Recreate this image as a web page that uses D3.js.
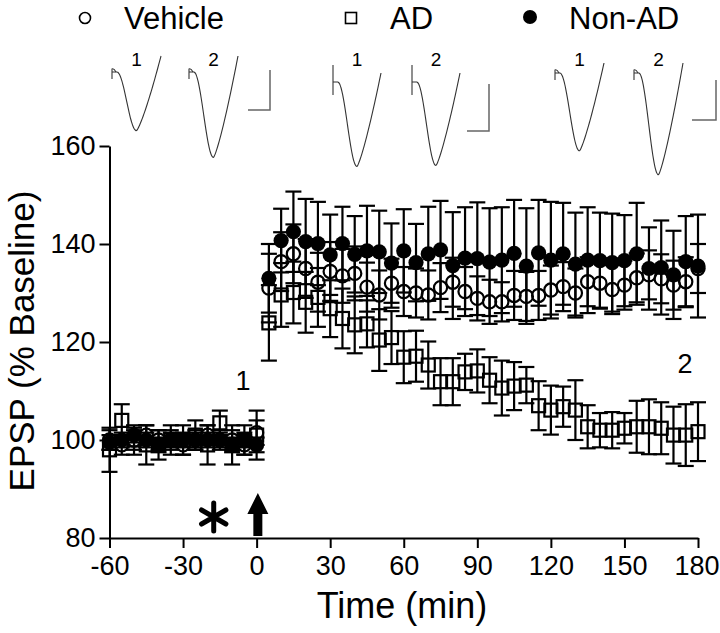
<!DOCTYPE html>
<html><head><meta charset="utf-8">
<script src="https://cdn.jsdelivr.net/npm/d3@7"></script>
<style>
body{margin:0;background:#fff}
svg{display:block}
text{font-family:"Liberation Sans",Arial,Helvetica,sans-serif;fill:#000}
</style>
</head><body>
<svg id="chart" width="720" height="633"></svg>
<script>
// ---------------- DATA ----------------
const baselineTimes = [-60,-55,-50,-45,-40,-35,-30,-25,-20,-15,-10,-5,0];
const postTimes = [5,10,15,20,25,30,35,40,45,50,55,60,65,70,75,80,85,90,95,100,105,110,115,120,125,130,135,140,145,150,155,160,165,170,175,180];

const vehicleBase    = [100,99,100,101,100,100,99,100,101,100,100,99,101.5];
const vehicleBaseErr = [2,2,2,2,2,2,2,2,2,2,2,2,2.5];
const adBase         = [98,104,100,99,99,100,100,101,99,103.5,99,100,101];
const adBaseErr      = [4.5,3.3,3,4,3,3,3,3,4,2.5,4,3,5];
const nonAdBase      = [99.5,100,101,100,99,100,100,100,100,100,99,100,99];
const nonAdBaseErr   = [1.5,1.5,1.5,1.5,1.5,1.5,1.5,1.5,1.5,1.5,1.5,1.5,1.5];

const vehiclePost    = [131,136.4,138,135,132.2,134.4,133.5,134,131.2,129.6,132,130.3,130,129.6,131.1,132.2,130.3,128.9,128.2,128.2,129.5,129.3,129.5,130.6,131.3,130,132.3,132,130.7,131.6,133.1,133.7,132.9,131.6,132.3,135];
const vehiclePostErr = [7,6,6,6,6,6,5.5,5.5,5,5,5,5,5,5,5,5,5,4.5,4.5,4,5,5,5,5,5,5,5,5,5,5,5,5,5,5,5,5];
const adPost         = [123.9,129.6,130.1,128.1,129.1,126.8,124.8,123.5,123.7,120.4,120.9,116.9,117.1,115.3,111.9,111.9,113.9,114.1,112.2,110.6,111,111.2,107,106.1,106.8,106.1,102.7,102,102,102.4,102.7,102.7,102.4,101,101,101.7];
const adPostErr      = [7.7,6.5,6.3,6.2,6,5.8,6.1,5.8,4.8,6.3,5.4,5.3,5.2,4.8,4.8,4.8,3.7,4.4,4.7,5.6,4.9,3.7,5,5,4.1,6.1,4.4,3.5,3.7,3.1,5.3,5.6,5.3,5.8,6.3,6];
const nonAdPost      = [133,140.7,142.5,140.5,140.1,137.8,140.1,137.9,138.6,138.4,136.1,138.6,136.2,138,138.8,135.6,137.1,137,136.3,136.7,138.1,135.5,138.2,136.7,138,135.9,136.7,136.6,136.2,136.6,138,135,135.2,133.7,136.4,135.5];
const nonAdPostErr   = [7,6.5,8.2,8.7,8.5,8.2,7.5,7.8,9.2,8.4,8.1,8.5,7.9,9.6,10,10.9,10.4,11.5,11,10.8,10.9,11.8,10.8,11.9,10.4,10.5,10.8,9.8,10,9.3,10.4,8.4,9.6,9,9.3,10.5];

const xTicks = [-60,-30,0,30,60,90,120,150,180];
const yTicks = [80,100,120,140,160];
const seriesNames = ["Vehicle","AD","Non-AD"];
// inset EPSP trace amplitudes (in scale-bar units), traces 1 and 2 per group
const traceAmp = {"Vehicle":[1.47,2.14], "AD":[1.80,1.78], "Non-AD":[1.95,2.55]};

// ---------------- CHART ----------------
const svg = d3.select("#chart");
const x = d3.scaleLinear().domain([-60,180]).range([109.5,698]);
const y = d3.scaleLinear().domain([80,160]).range([538,146]);

const FONT = '"Liberation Sans",Arial,Helvetica,sans-serif';

// axes
const gx = svg.append("g").attr("transform","translate(0,538)")
  .call(d3.axisBottom(x).tickValues(xTicks).tickSize(10).tickSizeOuter(0).tickPadding(8).tickFormat(d3.format("d")));
const gy = svg.append("g").attr("transform","translate(109.5,0)")
  .call(d3.axisLeft(y).tickValues(yTicks).tickSize(10).tickSizeOuter(0).tickPadding(4).tickFormat(d3.format("d")));
[gx,gy].forEach(g=>{
  g.select(".domain").attr("stroke","#000").attr("stroke-width",2);
  g.selectAll(".tick line").attr("stroke","#000").attr("stroke-width",2);
  g.selectAll(".tick text").attr("font-family",FONT).attr("font-size",27).attr("fill","#000");
});
gx.selectAll(".tick text").text(d=>d<0?"-"+Math.abs(d):d);
// keep the last x label inside the picture
gx.selectAll(".tick text").filter(d=>d===180).attr("text-anchor","end").attr("x",21);

// axis titles
svg.append("text").attr("x",402).attr("y",618).attr("text-anchor","middle")
  .attr("font-size",36).text("Time (min)");
svg.append("text").attr("transform","translate(34,341) rotate(-90)").attr("text-anchor","middle")
  .attr("font-size",35).text("EPSP (% Baseline)");

// build series
function mk(times, vals, errs){ return times.map((t,i)=>({t, v:vals[i], e:errs[i]})); }
const series = {
  "AD":      mk(baselineTimes, adBase, adBaseErr).concat(mk(postTimes, adPost, adPostErr)),
  "Vehicle": mk(baselineTimes, vehicleBase, vehicleBaseErr).concat(mk(postTimes, vehiclePost, vehiclePostErr)),
  "Non-AD":  mk(baselineTimes, nonAdBase, nonAdBaseErr).concat(mk(postTimes, nonAdPost, nonAdPostErr))
};
const CAP = 8;
function drawErr(g, data){
  const eb = g.append("g").attr("stroke","#000").attr("stroke-width",2.2).attr("fill","none");
  data.forEach(d=>{
    const cx = x(d.t), yt = y(d.v+d.e), yb = y(d.v-d.e);
    eb.append("line").attr("x1",cx).attr("x2",cx).attr("y1",yt).attr("y2",yb);
    eb.append("line").attr("x1",cx-CAP).attr("x2",cx+CAP).attr("y1",yt).attr("y2",yt);
    eb.append("line").attr("x1",cx-CAP).attr("x2",cx+CAP).attr("y1",yb).attr("y2",yb);
  });
}
const plot = svg.append("g");
// AD: open squares
const gAD = plot.append("g");
drawErr(gAD, series["AD"]);
gAD.selectAll("rect").data(series["AD"]).join("rect")
  .attr("x",d=>x(d.t)-6.5).attr("y",d=>y(d.v)-6.5).attr("width",13).attr("height",13)
  .attr("fill","none").attr("stroke","#000").attr("stroke-width",2.2);
// Vehicle: open circles
const gV = plot.append("g");
drawErr(gV, series["Vehicle"]);
gV.selectAll("circle").data(series["Vehicle"]).join("circle")
  .attr("cx",d=>x(d.t)).attr("cy",d=>y(d.v)).attr("r",6.6)
  .attr("fill","none").attr("stroke","#000").attr("stroke-width",2.2);
// Non-AD: filled circles
const gN = plot.append("g");
drawErr(gN, series["Non-AD"]);
gN.selectAll("circle").data(series["Non-AD"]).join("circle")
  .attr("cx",d=>x(d.t)).attr("cy",d=>y(d.v)).attr("r",7.6)
  .attr("fill","#000").attr("stroke","none");

// annotations "1", "2"
svg.append("text").attr("x",243).attr("y",390).attr("text-anchor","middle").attr("font-size",27).text("1");
svg.append("text").attr("x",685).attr("y",373).attr("text-anchor","middle").attr("font-size",27).text("2");

// asterisk (drug) and arrow (stimulation) markers
svg.append("path").attr("d", d3.symbol(d3.symbolAsterisk, 560)())
  .attr("transform",`translate(${x(-17.5)},517)`).attr("stroke","#000").attr("stroke-width",5)
  .attr("stroke-linecap","round").attr("fill","none");
const ax0 = x(0.5);
svg.append("path").attr("d",
  `M${ax0},493 L${ax0+10.5},514 L${ax0+4.5},514 L${ax0+4.5},536 L${ax0-4.5},536 L${ax0-4.5},514 L${ax0-10.5},514 Z`)
  .attr("fill","#000");

// legend
const legend = [
  {name:"Vehicle", sx:85, tx:124},
  {name:"AD", sx:351, tx:390},
  {name:"Non-AD", sx:530, tx:569}
];
legend.forEach(l=>{
  if(l.name==="Vehicle") svg.append("circle").attr("cx",l.sx).attr("cy",18).attr("r",5.5).attr("fill","none").attr("stroke","#000").attr("stroke-width",1.6);
  if(l.name==="AD") svg.append("rect").attr("x",l.sx-5.5).attr("y",12.5).attr("width",11).attr("height",11).attr("fill","none").attr("stroke","#000").attr("stroke-width",1.6);
  if(l.name==="Non-AD") svg.append("circle").attr("cx",l.sx).attr("cy",17).attr("r",7).attr("fill","#000");
  svg.append("text").attr("x",l.tx).attr("y",29).attr("font-size",31).text(l.name);
});

// inset traces
const insets = [
  {name:"Vehicle", x0:[112,189], w:49, y0:72, bar:{x:270, top:70, h:40, w:22}, art:"hook", over:16},
  {name:"AD",      x0:[333,412], w:48, y0:82, bar:{x:489, top:84, h:47, w:22}, art:"line", over:9},
  {name:"Non-AD",  x0:[555,634], w:49, y0:73, bar:{x:716, top:80, h:40, w:24}, art:"hook", over:10}
];
function traceShape(amp, over){
  const pts=[];
  for(let i=0;i<=60;i++){
    const u=i/60; let v;
    if(u<0.5){ const s=Math.max(0,(u-0.1)/0.4); v = -amp*(1-Math.cos(Math.PI*s))/2; }
    else { const s=(u-0.5)/0.5; v = -amp + (amp+over)*Math.pow(s,1.25); }
    pts.push([u,v]);
  }
  return pts;
}
insets.forEach(ins=>{
  const g = svg.append("g");
  const ys = d3.scaleLinear().domain([0,1]).range([0, ins.bar.h]);
  traceAmp[ins.name].forEach((a,k)=>{
    const xs = d3.scaleLinear().domain([0,1]).range([ins.x0[k], ins.x0[k]+ins.w]);
    const pts = traceShape(a, ins.over/ins.bar.h);
    g.append("path").attr("d", d3.line().x(p=>xs(p[0])).y(p=>ins.y0 - ys(p[1])).curve(d3.curveBasis)(pts))
      .attr("fill","none").attr("stroke","#333").attr("stroke-width",1.1);
    const sx = ins.x0[k];
    if(ins.art==="hook"){
      g.append("path").attr("d",`M${sx},${ins.y0+7} L${sx},${ins.y0-3} Q${sx+2},${ins.y0-4} ${sx+4},${ins.y0}`)
        .attr("fill","none").attr("stroke","#333").attr("stroke-width",1.1);
    } else {
      g.append("line").attr("x1",sx).attr("x2",sx).attr("y1",ins.y0-17).attr("y2",ins.y0+13)
        .attr("stroke","#333").attr("stroke-width",1.1);
    }
    g.append("text").attr("x", xs(0.5)).attr("y",66).attr("text-anchor","middle").attr("font-size",19).text(String(k+1));
  });
  const b = ins.bar;
  g.append("path").attr("d",`M${b.x},${b.top} L${b.x},${b.top+b.h} L${b.x-b.w},${b.top+b.h}`)
    .attr("fill","none").attr("stroke","#666").attr("stroke-width",1.5);
});
</script>
</body></html>
